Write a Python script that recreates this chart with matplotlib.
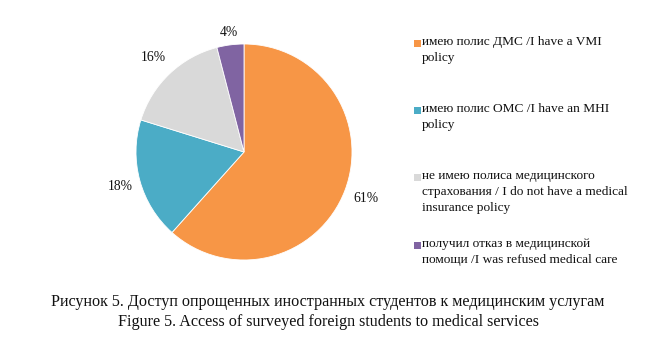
import numpy as np
import matplotlib.pyplot as plt
from matplotlib.patches import Rectangle

plt.rcParams['font.family'] = ['Liberation Serif', 'DejaVu Serif']

# Данные диаграммы
labels = [
    "имею полис ДМС /I have a VMI\npolicy",
    "имею полис ОМС /I have an MHI\npolicy",
    "не имею полиса медицинского\nстрахования / I do not have a medical\ninsurance policy",
    "получил отказ в медицинской\nпомощи /I was refused medical care",
]
values = [61, 18, 16, 4]
colors = ["#F79646", "#4BACC6", "#D9D9D9", "#8064A2"]
label_dist = [1.21, 1.19, 1.21, 1.12]

W, H = 646, 337
fig = plt.figure(figsize=(W / 100, H / 100), dpi=100)

# Оси круговой диаграммы: центр (244,152) px, радиус ~108 px
ax = fig.add_axes([109 / W, 50 / H, 270 / W, 270 / H])
wedges, _ = ax.pie(values, colors=colors, startangle=90, counterclock=False,
                   wedgeprops=dict(edgecolor="white", linewidth=0.6))
ax.set_xlim(-1.25, 1.25)
ax.set_ylim(-1.25, 1.25)
ax.set_aspect("equal")
ax.axis("off")

# Подписи процентов
for w, v, d in zip(wedges, values, label_dist):
    ang = np.deg2rad((w.theta1 + w.theta2) / 2)
    ax.text(d * np.cos(ang), d * np.sin(ang), f"{v}%", ha="center", va="center",
            fontsize=9.8, color="#111111")

# Легенда вручную
y_tops = [36, 103, 170, 238]
for lab, col, y in zip(labels, colors, y_tops):
    fig.patches.append(Rectangle((414 / W, 1 - (y + 11) / H), 7 / W, 7 / H,
                                 transform=fig.transFigure, facecolor=col,
                                 edgecolor="none"))
    fig.text(422 / W, 1 - y / H, lab, ha="left", va="top", fontsize=9.6,
             linespacing=1.42, color="#111111")

# Подпись рисунка
fig.text(328 / W, 1 - 302 / H,
         "Рисунок 5. Доступ опрощенных иностранных студентов к медицинским услугам",
         ha="center", va="center", fontsize=11.6, color="#111111")
fig.text(328 / W, 1 - 322 / H,
         "Figure 5. Access of surveyed foreign students to medical services",
         ha="center", va="center", fontsize=11.6, color="#111111")

fig.savefig("out.png", dpi=100)
